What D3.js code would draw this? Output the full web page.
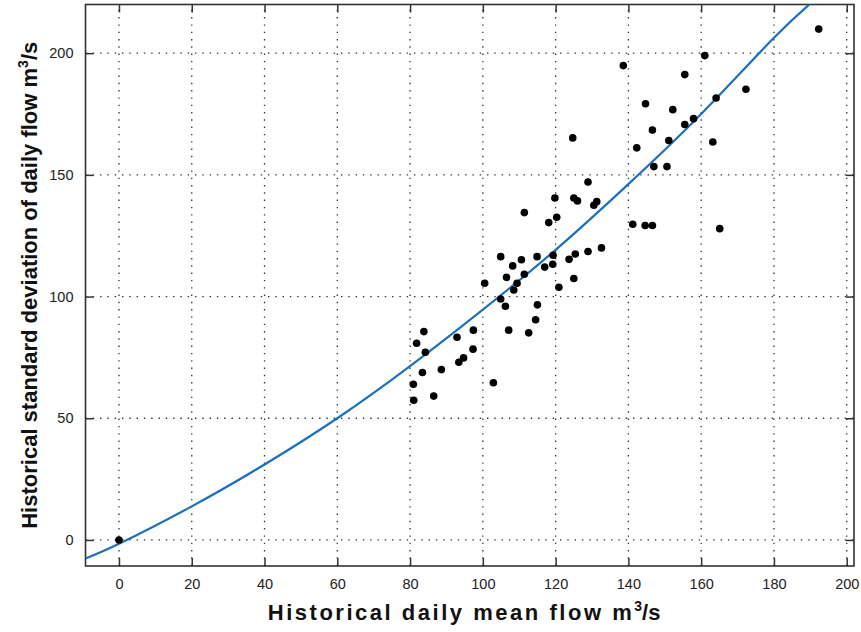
<!DOCTYPE html>
<html><head><meta charset="utf-8">
<script src="https://cdn.jsdelivr.net/npm/d3@7"></script>
<style>html,body{margin:0;padding:0;background:#fff;}svg{display:block;}</style>
</head><body>
<svg id="chart" width="861" height="632"></svg>
<script>
const xTicks = [0,20,40,60,80,100,120,140,160,180,200];
const yTicks = [0,50,100,150,200];
const flowMean = [0,80.9,81.0,81.8,83.4,83.8,84.2,86.5,88.6,92.9,93.4,94.7,97.4,97.3,100.5,102.9,104.9,106.2,107.1,104.9,106.5,108.2,109.4,108.5,111.4,110.6,111.4,112.6,114.5,115.0,114.9,117.0,119.2,119.3,118.1,120.3,119.8,120.9,123.7,125.0,125.4,124.7,125.0,126.0,128.9,128.9,130.5,131.3,132.6,138.6,141.2,142.3,144.7,144.6,146.6,146.6,147.0,150.6,151.1,152.2,155.5,155.5,157.9,161.0,163.2,164.1,165.1,172.3,192.3];
const flowStd = [0,64.0,57.4,80.8,68.8,85.6,77.1,59.1,70.0,83.3,73.0,74.8,86.2,78.4,105.5,64.6,99.0,96.0,86.2,116.4,107.9,112.6,105.5,102.7,109.2,115.1,134.5,85.1,90.5,96.6,116.4,112.1,113.3,117.0,130.4,132.6,140.5,103.8,115.3,107.4,117.5,165.2,140.5,139.3,147.1,118.5,137.5,139.0,120.0,194.9,129.7,161.1,179.2,129.2,129.2,168.4,153.4,153.4,164.1,176.8,191.2,170.7,173.1,199.0,163.5,181.6,127.9,185.2,209.9];
const fitMean = [-9.2,0,20,40,60,80,100,120,140,160,180,192];
const fitStd = [-7.6,-1.6,13.8,31.0,50.0,71.4,94.6,119.2,146.2,175.0,206.3,223.0];

const svg = d3.select("#chart");
const L = 85.5, R = 854, T = 4.5, B = 566;
const x = d3.scaleLinear().domain([-9.2, 202]).range([L, R]);
const y = d3.scaleLinear().domain([-10.7, 220]).range([B, T]);

svg.append("defs").append("clipPath").attr("id","clip")
  .append("rect").attr("x",L).attr("y",T).attr("width",R-L).attr("height",B-T);

// grid
const grid = svg.append("g").attr("stroke","#333").attr("stroke-width",1.3).attr("stroke-dasharray","1.4 5.9");
grid.selectAll(".gx").data(xTicks).join("line")
  .attr("x1",d=>x(d)).attr("x2",d=>x(d)).attr("y1",B).attr("y2",T);
grid.selectAll(".gy").data(yTicks).join("line")
  .attr("y1",d=>y(d)).attr("y2",d=>y(d)).attr("x1",L).attr("x2",R);

// axes with inward ticks
const tickLen = 8;
const axStyle = g => { g.select(".domain").remove(); g.selectAll("line").attr("stroke","#333").attr("stroke-width",1.5); g.selectAll("text").attr("font-family","Liberation Sans, Arial, sans-serif").attr("font-size",14.5).attr("fill","#222"); };
svg.append("g").attr("transform",`translate(0,${B})`)
  .call(d3.axisBottom(x).tickValues(xTicks).tickSizeInner(-tickLen).tickSizeOuter(0).tickPadding(13))
  .call(axStyle);
svg.append("g").attr("transform",`translate(0,${T})`)
  .call(d3.axisTop(x).tickValues(xTicks).tickSizeInner(-tickLen).tickSizeOuter(0).tickFormat(""))
  .call(axStyle);
svg.append("g").attr("transform",`translate(${L},0)`)
  .call(d3.axisLeft(y).tickValues(yTicks).tickSizeInner(-tickLen).tickSizeOuter(0).tickPadding(12))
  .call(axStyle);
svg.append("g").attr("transform",`translate(${R},0)`)
  .call(d3.axisRight(y).tickValues(yTicks).tickSizeInner(-tickLen).tickSizeOuter(0).tickFormat(""))
  .call(axStyle);

// frame
svg.append("rect").attr("x",L).attr("y",T).attr("width",R-L).attr("height",B-T)
  .attr("fill","none").attr("stroke","#333").attr("stroke-width",1.6);

// fitted curve
const fitData = fitMean.map((m,i)=>[m, fitStd[i]]);
svg.append("path").datum(fitData).attr("clip-path","url(#clip)")
  .attr("fill","none").attr("stroke","#1f6fc0").attr("stroke-width",2.2)
  .attr("d", d3.line().x(d=>x(d[0])).y(d=>y(d[1])).curve(d3.curveNatural));

// points
svg.append("g").selectAll("circle").data(flowMean.map((m,i)=>[m, flowStd[i]])).join("circle")
  .attr("cx",d=>x(d[0])).attr("cy",d=>y(d[1])).attr("r",3.8).attr("fill","#000");

// labels
const lf = "Liberation Sans, Arial, Helvetica, sans-serif";
const xl = svg.append("text").attr("x",(L+R)/2 - 202).attr("y",620)
  .attr("font-family",lf).attr("font-weight","bold").attr("font-size",22).attr("fill","#111");
xl.append("tspan").attr("textLength",364).attr("lengthAdjust","spacing").text("Historical daily mean flow m");
xl.append("tspan").attr("dy",-9).attr("font-size",14).text("3");
xl.append("tspan").attr("dy",9).text("/s");

const yl = svg.append("text").attr("transform",`translate(37,${(T+B)/2}) rotate(-90)`).attr("text-anchor","middle")
  .attr("font-family",lf).attr("font-weight","bold").attr("font-size",22).attr("fill","#111");
yl.append("tspan").text("Historical standard deviation of daily flow m");
yl.append("tspan").attr("dy",-9).attr("font-size",14).text("3");
yl.append("tspan").attr("dy",9).text("/s");
</script>
</body></html>
